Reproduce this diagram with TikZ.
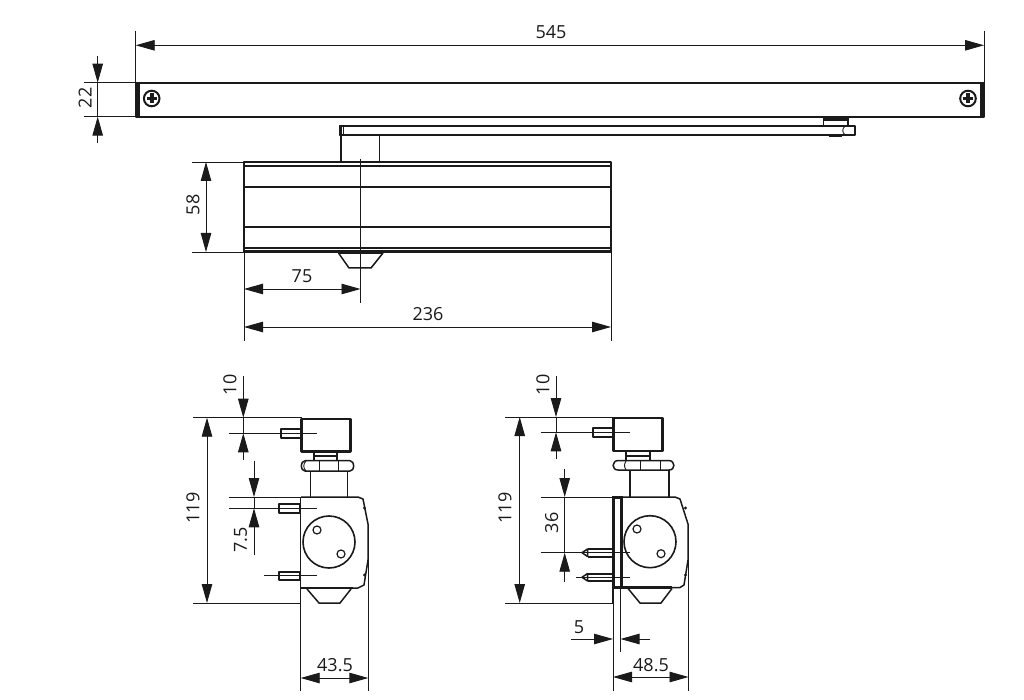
\documentclass[tikz,border=0pt]{standalone}
\usepackage{fontspec}
\setmainfont{Open Sans}
\usetikzlibrary{arrows.meta}
\definecolor{ink}{HTML}{1A1A1A}
\tikzset{
  thin line/.style={draw=ink,line width=0.9pt},
  outline/.style={draw=ink,line width=1.5pt,line join=round},
  heavy/.style={draw=ink,line width=2.5pt},
  solid black/.style={fill=ink,draw=none},
  dimboth/.style={thin line,{Triangle[length=19pt,width=10.5pt]}-{Triangle[length=19pt,width=10.5pt]}},
  dimend/.style={thin line,-{Triangle[length=19pt,width=10.5pt]}},
  label/.style={text=ink,font=\fontsize{18}{20}\selectfont,inner sep=0pt},
  vlabel/.style={label,rotate=90},
}
\newcommand{\screw}[2]{%
  \draw[draw=ink,line width=2pt,fill=white] (#1,#2) circle (7.8);
  \fill[ink] (#1-5,#2-1.9) rectangle (#1+5,#2+1.9);
  \fill[ink] (#1-1.9,#2-5) rectangle (#1+1.9,#2+5);}
\begin{document}
\begin{tikzpicture}[x=1pt,y=-1pt]
\useasboundingbox[fill=white] (0,0) rectangle (1024,700);
% ---- rail
\draw[outline,line width=1.8pt] (136,83) rectangle (984,117);
\fill[solid black] (135.5,82.5) rectangle (139.7,117.5);
\fill[solid black] (980,82.5) rectangle (984.5,117.5);
\screw{151.7}{98.5}
\screw{968}{98.5}
% slider and arm
\draw[outline] (823.5,118) rectangle (848,126);
\draw[heavy] (823,119.5) -- (848,119.5);
\draw[outline] (339.5,126) rectangle (855,135);
\fill[solid black] (339,126) rectangle (341.5,135.5);
\draw[thin line] (343.5,126) -- (343.5,135);
\draw[thin line] (845,126) .. controls (842,129) and (842,132) .. (845,135);
\fill[solid black] (829,135) rectangle (842,137.5);
\draw[outline] (341,135) -- (341,162);
\draw[outline] (379.5,135) -- (379.5,162);
% ---- closer body
\draw[outline,line width=1.9pt] (244,162) rectangle (611,252);
\draw[heavy,line width=2pt] (244,162) -- (611,162);
\draw[outline] (244,166) -- (611,166);
\draw[outline] (244,187) -- (611,187);
\draw[outline] (244,227) -- (611,227);
\draw[outline] (244,248) -- (611,248);
\draw[heavy,line width=2pt] (244,251.5) -- (611,251.5);
\draw[outline] (338.5,253) -- (349,268) -- (371,268) -- (383,253);
\draw[heavy] (338,253) -- (383,253);
% ---- top dimensions
\coordinate (a545l) at (135.7,45.3); \coordinate (a545r) at (984,45.3);
\draw[thin line] (135.7,31) -- (135.7,117);
\draw[thin line] (984,31) -- (984,83);
\draw[dimboth] (a545l) -- (a545r);
\node[label] (t545) at (551,32) {545};
\draw[thin line] (84,82.7) -- (136,82.7);
\draw[thin line] (84,116.7) -- (136,116.7);
\coordinate (a22a) at (97.7,56); \coordinate (a22b) at (97.7,82.7);
\coordinate (a22c) at (97.7,143); \coordinate (a22d) at (97.7,116.7);
\draw[dimend] (a22a) -- (a22b);
\draw[dimend] (a22c) -- (a22d);
\draw[thin line] (a22b) -- (a22d);
\node[vlabel] (t22) at (85,98) {22};
\draw[thin line] (192,162) -- (244,162);
\draw[thin line] (192,252) -- (244,252);
\draw[dimboth] (206,162) -- (206,252);
\node[vlabel] (t58) at (193,205) {58};
\draw[thin line] (360.5,159) -- (360.5,303);
\draw[thin line] (244,252) -- (244,341);
\draw[thin line] (611,252) -- (611,341);
\draw[dimboth] (244,289) -- (360.5,289);
\node[label] (t75) at (302,276.5) {75};
\draw[dimboth] (244,327) -- (611,327);
\node[label] (t236) at (428,314) {236};
% ---- lower left view
\draw[outline,line width=2.6pt] (301.5,419) rectangle (350.5,451.5);
\draw[outline] (314,452) -- (314,460); \draw[outline] (337,452) -- (337,460);
\draw[outline] (314,456) -- (337,456);
\draw[outline] (305,460.7) -- (350,460.7) .. controls (355,461) and (355,471) .. (350,471) -- (305,471) .. controls (300,471) and (300,461) .. (305,460.7);
\draw[thin line] (306,461) .. controls (303,464) and (303,468) .. (306,471);
\draw[thin line] (319,461) -- (319,471);
\draw[thin line] (338,461) -- (338,471);
\draw[outline] (310.7,471) -- (310.7,497);
\draw[outline] (347.5,471) -- (347.5,497);
\draw[outline] (301,497) -- (358,497) -- (363,499) -- (368,524) -- (368,560) -- (364,585) -- (358,588) -- (301,588);
\draw[heavy] (301,588) -- (353,588);
\draw[draw=ink,line width=1.6pt] (329,542) circle (26);
\draw[draw=ink,line width=1.2pt] (317,530) circle (4);
\draw[draw=ink,line width=1.2pt] (341,554) circle (4);
\fill[solid black] (364.5,508) circle (1.6);
\fill[solid black] (364.5,575) circle (1.6);
\draw[outline] (307,589) -- (319,603) -- (340,603) -- (351,589);
% pins
\draw[outline,line width=2pt] (281,429.3) rectangle (301,437.7);
\draw[outline,line width=2pt] (278.5,504.3) rectangle (300,513);
\draw[outline,line width=2pt] (278.5,571.5) rectangle (300,580);
% dims
\draw[thin line] (229,433.3) -- (317,433.3);
\draw[thin line] (193,417.7) -- (302,417.7);
\draw[dimend] (243.3,376) -- (243.3,417.7);
\draw[dimend] (243.3,460) -- (243.3,433.3);
\draw[thin line] (243.3,417.7) -- (243.3,433.3);
\node[vlabel] (t10a) at (230,385) {10};
\draw[thin line] (193,603) -- (301,603);
\draw[dimboth] (207,417.7) -- (207,603);
\node[vlabel] (t119a) at (193,508) {119};
\draw[thin line] (229,497) -- (301,497);
\draw[thin line] (229,508.3) -- (317,508.3);
\draw[thin line] (264,575.7) -- (317,575.7);
\draw[dimend] (254,460.7) -- (254,497);
\draw[dimend] (254,555) -- (254,508.3);
\draw[thin line] (254,497) -- (254,508.3);
\node[vlabel] (t75b) at (240.5,540) {7.5};
\draw[thin line] (300.7,497) -- (300.7,691);
\draw[thin line] (368.3,524) -- (368.3,691);
\draw[dimboth] (300.7,678) -- (368.3,678);
\node[label] (t435) at (335,665) {43.5};
% ---- lower right view
\draw[outline,line width=2.6pt] (613.5,418) rectangle (662.7,451);
\draw[outline] (626,452) -- (626,460); \draw[outline] (650,452) -- (650,460);
\draw[outline] (626,456) -- (650,456);
\draw[outline] (618,460.5) -- (669,460.5) .. controls (675.5,461) and (675.5,470) .. (669,470) -- (618,470) .. controls (611.5,470) and (611.5,461) .. (618,460.5);
\draw[thin line] (626,461) .. controls (624,464) and (624,467) .. (626,470);
\draw[thin line] (640.5,461) -- (640.5,470);
\draw[thin line] (660,461) -- (660,470);
\draw[outline] (630,470) -- (630,497);
\draw[outline] (669,470) -- (669,497);
\draw[outline] (622,497) -- (675,497) -- (680,499) -- (688,524) -- (688,560) -- (684,585) -- (680,587.5) -- (622,587.5);
\draw[heavy] (622,587.5) -- (672,587.5);
\draw[draw=ink,line width=1.6pt] (650,541.7) circle (26);
\draw[draw=ink,line width=1.2pt] (637,529) circle (4);
\draw[draw=ink,line width=1.2pt] (661,553.7) circle (4);
\fill[solid black] (685.5,508) circle (1.6);
\fill[solid black] (685.5,575) circle (1.6);
\draw[outline] (628,588.5) -- (640,603) -- (661,603) -- (672,588.5);
% plate
\draw[heavy] (613.5,497.5) rectangle (621.5,587.5);
\draw[outline] (612.7,587.5) -- (612.7,603);
\draw[outline] (620.5,587.5) -- (620.5,603);
% pins right
\draw[outline,line width=2pt] (593,427.5) rectangle (612.5,437);
\draw[outline,line width=2pt] (587.5,549) -- (612,549);
\draw[outline,line width=2pt] (587.5,556.5) -- (612,556.5);
\draw[outline] (587.5,549) -- (587.5,556.5) -- (582,552.7) -- cycle;
\draw[outline,line width=2pt] (587.5,573.5) -- (612,573.5);
\draw[outline,line width=2pt] (587.5,581) -- (612,581);
\draw[outline] (587.5,573.5) -- (587.5,581) -- (582,577.3) -- cycle;
% dims
\draw[thin line] (541,432.3) -- (630,432.3);
\draw[thin line] (505,417) -- (613,417);
\draw[dimend] (556,376) -- (556,417);
\draw[dimend] (556,459) -- (556,432.3);
\draw[thin line] (556,417) -- (556,432.3);
\node[vlabel] (t10b) at (543,385) {10};
\draw[thin line] (505,603) -- (613,603);
\draw[dimboth] (519.7,417) -- (519.7,603);
\node[vlabel] (t119b) at (505,508) {119};
\draw[thin line] (541,497) -- (613,497);
\draw[thin line] (541,552.7) -- (630,552.7);
\draw[thin line] (576,577.3) -- (630,577.3);
\draw[dimend] (564.7,469) -- (564.7,497);
\draw[dimend] (564.7,582) -- (564.7,552.7);
\draw[thin line] (564.7,497) -- (564.7,552.7);
\node[vlabel] (t36) at (551.7,523) {36};
\draw[thin line] (613,587) -- (613,691);
\draw[thin line] (620.5,587) -- (620.5,652);
\draw[thin line] (688.5,524) -- (688.5,691);
\draw[dimend] (571,639) -- (613,639);
\draw[dimend] (650,639) -- (620.5,639);
\node[label] (t5) at (579,627) {5};
\draw[dimboth] (613,677) -- (688.5,677);
\node[label] (t485) at (651,665) {48.5};
\end{tikzpicture}
\end{document}
